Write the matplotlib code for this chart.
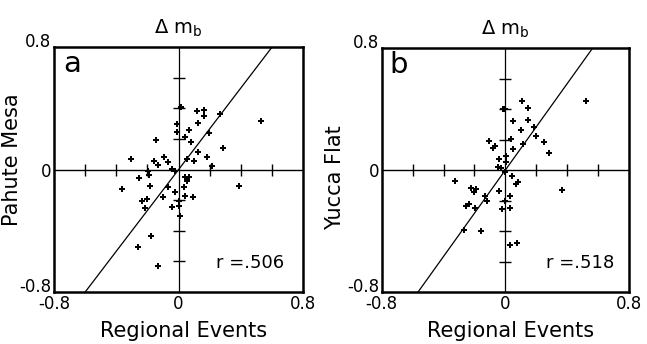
import matplotlib.pyplot as plt

plt.rcParams['font.family'] = ['DejaVu Sans']

# panel a: Pahute Mesa vs regional events
pahute_x = [0.531, 0.286, 0.387, 0.269, 0.161, 0.118, 0.161, 0.125, 0.196, 0.065,
            0.039, 0.080, 0.183, 0.125, 0.097, 0.054, 0.215, 0.015, -0.011, -0.011,
            -0.144, -0.305, -0.161, -0.129, -0.092, -0.065, -0.043, -0.022, -0.194, -0.252,
            -0.191, -0.363, -0.183, -0.065, -0.237, -0.200, -0.215, -0.097, -0.022, -0.043,
            0.032, 0.054, 0.043, 0.065, 0.043, 0.090, 0.000, 0.006, -0.176, -0.258,
            -0.135, 0.000]
pahute_y = [0.320, 0.141, -0.104, 0.363, 0.389, 0.380, 0.352, 0.304, 0.241, 0.259,
            0.215, 0.178, 0.085, 0.113, 0.059, 0.070, 0.022, 0.407, 0.298, 0.243,
            0.193, 0.070, 0.054, 0.030, 0.080, 0.048, 0.004, -0.007, -0.007, -0.054,
            -0.035, -0.126, -0.104, -0.115, -0.202, -0.191, -0.250, -0.180, -0.148, -0.246,
            -0.111, -0.072, -0.050, -0.050, -0.170, -0.180, -0.235, -0.300, -0.435, -0.507,
            -0.633, -0.202]

# panel b: Yucca Flat vs regional events
yucca_x = [0.522, 0.108, 0.147, -0.015, -0.004, 0.050, 0.147, 0.104, 0.184, 0.201,
           0.249, 0.284, 0.115, 0.050, 0.039, -0.108, -0.080, -0.065, -0.041, 0.006,
           0.006, -0.048, -0.026, -0.004, 0.045, 0.082, 0.071, 0.370, -0.323, -0.221,
           -0.188, -0.205, -0.134, -0.119, -0.041, 0.032, -0.004, -0.253, -0.236, -0.193,
           -0.022, 0.032, -0.268, -0.160, 0.032, 0.076]
yucca_y = [0.454, 0.454, 0.410, 0.400, 0.404, 0.319, 0.330, 0.264, 0.286, 0.225,
           0.186, 0.111, 0.170, 0.138, 0.207, 0.190, 0.148, 0.155, 0.076, 0.090,
           0.050, 0.022, 0.011, -0.015, -0.037, -0.081, -0.092, -0.129, -0.070, -0.118,
           -0.124, -0.146, -0.168, -0.205, -0.135, -0.172, -0.201, -0.238, -0.223, -0.249,
           -0.255, -0.251, -0.391, -0.402, -0.489, -0.480]

slopes = [1.333, 1.416]
r_values = ['r =.506', 'r =.518']
panel_letters = ['a', 'b']
y_labels = ['Pahute Mesa', 'Yucca Flat']
x_label = 'Regional Events'
title = r'$\Delta$ m$_\mathregular{b}$'
cross_ticks = [-0.6, -0.4, -0.2, 0.2, 0.4, 0.6]
edge_ticks = [-0.8, 0, 0.8]
edge_labels = ['-0.8', '0', '0.8']

fig = plt.figure(figsize=(6.47, 3.44), dpi=100)
ax_a = fig.add_axes([0.0835, 0.151, 0.385, 0.712])
ax_b = fig.add_axes([0.590, 0.151, 0.382, 0.709])

panels = [
    (ax_a, pahute_x, pahute_y, -0.128, 0.54, 0.036, 0.650),
    (ax_b, yucca_x, yucca_y, -0.150, 0.47, 0.032, 0.663),
]

for i, (ax, xs, ys, ylab_x, ylab_y, let_x, r_x) in enumerate(panels):
    ax.set_xlim(-0.8, 0.8)
    ax.set_ylim(-0.8, 0.8)

    # central cross with its own tick marks
    ax.axhline(0, color='black', lw=1.0, zorder=1)
    ax.axvline(0, color='black', lw=0.9, zorder=1)
    ax.plot(cross_ticks, [0] * len(cross_ticks), ls='none', marker='|',
            ms=8, mew=1.0, color='black')
    ax.plot([0] * len(cross_ticks), cross_ticks, ls='none', marker='_',
            ms=8, mew=1.0, color='black')

    ax.axline((0, 0), slope=slopes[i], color='black', lw=0.9)
    ax.plot(xs, ys, ls='none', marker='P', ms=4.2, mew=0, color='black', zorder=3)

    ax.set_xticks(edge_ticks)
    ax.set_xticklabels(edge_labels)
    ax.set_yticks(edge_ticks)
    ax.set_yticklabels(edge_labels)
    ax.tick_params(length=0, labelsize=12, pad=2)
    ylabs = ax.get_yticklabels()
    ylabs[0].set_va('baseline')
    ylabs[2].set_va('baseline')

    for side in ax.spines.values():
        side.set_linewidth(1.8)

    ax.set_title(title, fontsize=14, pad=10)
    ax.set_xlabel(x_label, fontsize=15)
    ax.xaxis.set_label_coords(0.52, -0.12)
    ax.set_ylabel(y_labels[i], fontsize=15)
    ax.yaxis.set_label_coords(ylab_x, ylab_y)

    ax.text(let_x, 0.898, panel_letters[i], transform=ax.transAxes,
            fontsize=21, va='baseline', ha='left')
    ax.text(r_x, 0.098, r_values[i], transform=ax.transAxes,
            fontsize=13, va='baseline', ha='left')

fig.savefig('out.png', dpi=100)
